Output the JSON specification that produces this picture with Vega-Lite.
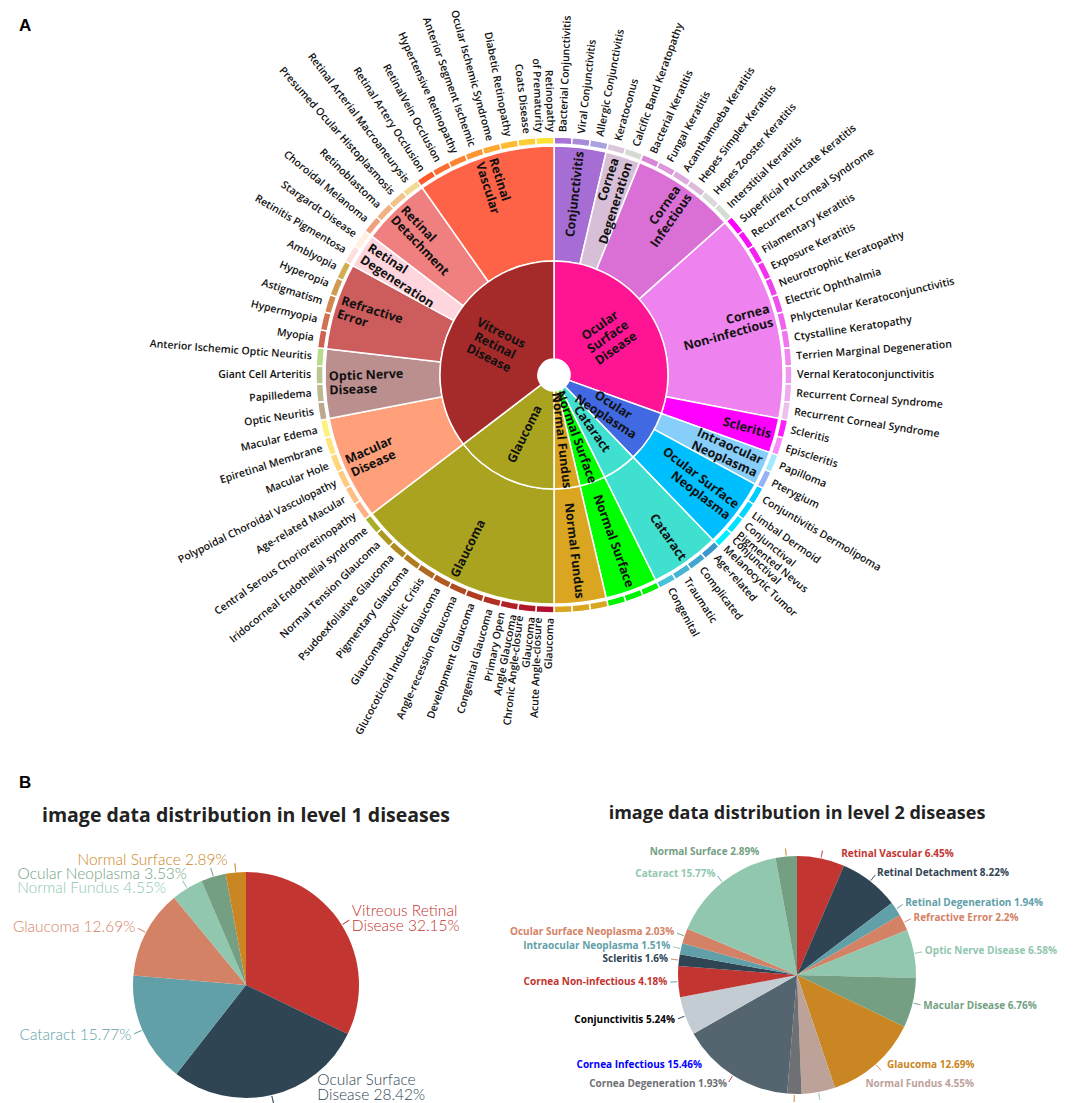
{
  "$schema": "https://vega.github.io/schema/vega-lite/v6.json",
  "background": "white",
  "padding": {"left": 12, "top": 9, "right": 0, "bottom": 0},
  "config": {"view": {"stroke": null}, "title": {"color": "#000000"}},
  "datasets": {
    "leaves": [
      {"l1": "Ocular Surface Disease", "l2": "Conjunctivitis", "name": "Bacterial Conjunctivitis", "v": 1},
      {"l1": "Ocular Surface Disease", "l2": "Conjunctivitis", "name": "Viral Conjunctivitis", "v": 1},
      {"l1": "Ocular Surface Disease", "l2": "Conjunctivitis", "name": "Allergic Conjunctivitis", "v": 1},
      {"l1": "Ocular Surface Disease", "l2": "Cornea Degeneration", "name": "Keratoconus", "v": 1},
      {"l1": "Ocular Surface Disease", "l2": "Cornea Degeneration", "name": "Calcific Band Keratopathy", "v": 1},
      {"l1": "Ocular Surface Disease", "l2": "Cornea Infectious", "name": "Bacterial Keratitis", "v": 1},
      {"l1": "Ocular Surface Disease", "l2": "Cornea Infectious", "name": "Fungal Keratitis", "v": 1},
      {"l1": "Ocular Surface Disease", "l2": "Cornea Infectious", "name": "Acanthamoeba Keratitis", "v": 1},
      {"l1": "Ocular Surface Disease", "l2": "Cornea Infectious", "name": "Hepes Simplex Keratitis", "v": 1},
      {"l1": "Ocular Surface Disease", "l2": "Cornea Infectious", "name": "Hepes Zooster Keratitis", "v": 1},
      {"l1": "Ocular Surface Disease", "l2": "Cornea Infectious", "name": "Interstitial Keratitis", "v": 1},
      {"l1": "Ocular Surface Disease", "l2": "Cornea Non-infectious", "name": "Superficial Punctate Keratitis", "v": 1},
      {"l1": "Ocular Surface Disease", "l2": "Cornea Non-infectious", "name": "Recurrent Corneal Syndrome", "v": 1},
      {"l1": "Ocular Surface Disease", "l2": "Cornea Non-infectious", "name": "Filamentary Keratitis", "v": 1},
      {"l1": "Ocular Surface Disease", "l2": "Cornea Non-infectious", "name": "Exposure Keratitis", "v": 1},
      {"l1": "Ocular Surface Disease", "l2": "Cornea Non-infectious", "name": "Neurotrophic Keratopathy", "v": 1},
      {"l1": "Ocular Surface Disease", "l2": "Cornea Non-infectious", "name": "Electric Ophthalmia", "v": 1},
      {"l1": "Ocular Surface Disease", "l2": "Cornea Non-infectious", "name": "Phlyctenular Keratoconjunctivitis", "v": 1},
      {"l1": "Ocular Surface Disease", "l2": "Cornea Non-infectious", "name": "Ctystalline Keratopathy", "v": 1},
      {"l1": "Ocular Surface Disease", "l2": "Cornea Non-infectious", "name": "Terrien Marginal Degeneration", "v": 1},
      {"l1": "Ocular Surface Disease", "l2": "Cornea Non-infectious", "name": "Vernal Keratoconjunctivitis", "v": 1},
      {"l1": "Ocular Surface Disease", "l2": "Cornea Non-infectious", "name": "Recurrent Corneal Syndrome", "v": 1},
      {"l1": "Ocular Surface Disease", "l2": "Cornea Non-infectious", "name": "Recurrent Corneal Syndrome", "v": 1},
      {"l1": "Ocular Surface Disease", "l2": "Scleritis", "name": "Scleritis", "v": 1},
      {"l1": "Ocular Surface Disease", "l2": "Scleritis", "name": "Episcleritis", "v": 1},
      {"l1": "Ocular Neoplasma", "l2": "Intraocular Neoplasma", "name": "Papilloma", "v": 1},
      {"l1": "Ocular Neoplasma", "l2": "Intraocular Neoplasma", "name": "Pterygium", "v": 1},
      {"l1": "Ocular Neoplasma", "l2": "Ocular Surface Neoplasma", "name": "Conjuntivitis Dermolipoma", "v": 1},
      {"l1": "Ocular Neoplasma", "l2": "Ocular Surface Neoplasma", "name": "Limbal Dermoid", "v": 1},
      {"l1": "Ocular Neoplasma", "l2": "Ocular Surface Neoplasma", "name": "Conjunctival\nPigmented Nevus", "v": 1},
      {"l1": "Ocular Neoplasma", "l2": "Ocular Surface Neoplasma", "name": "Conjunctival\nMelanocytic Tumor", "v": 1},
      {"l1": "Cataract", "l2": "Cataract", "name": "Age-related", "v": 1},
      {"l1": "Cataract", "l2": "Cataract", "name": "Complicated", "v": 1},
      {"l1": "Cataract", "l2": "Cataract", "name": "Traumatic", "v": 1},
      {"l1": "Cataract", "l2": "Cataract", "name": "Congenital", "v": 1},
      {"l1": "Normal Surface", "l2": "Normal Surface", "name": "", "v": 1},
      {"l1": "Normal Surface", "l2": "Normal Surface", "name": "", "v": 1},
      {"l1": "Normal Surface", "l2": "Normal Surface", "name": "", "v": 1},
      {"l1": "Normal Fundus", "l2": "Normal Fundus", "name": "", "v": 1},
      {"l1": "Normal Fundus", "l2": "Normal Fundus", "name": "", "v": 1},
      {"l1": "Normal Fundus", "l2": "Normal Fundus", "name": "", "v": 1},
      {"l1": "Glaucoma", "l2": "Glaucoma", "name": "Acute Angle-closure\nGlaucoma", "v": 1},
      {"l1": "Glaucoma", "l2": "Glaucoma", "name": "Chronic Angle-closure\nGlaucoma", "v": 1},
      {"l1": "Glaucoma", "l2": "Glaucoma", "name": "Primary Open\nAngle Glaucoma", "v": 1},
      {"l1": "Glaucoma", "l2": "Glaucoma", "name": "Congenital Glaucoma", "v": 1},
      {"l1": "Glaucoma", "l2": "Glaucoma", "name": "Development Glaucoma", "v": 1},
      {"l1": "Glaucoma", "l2": "Glaucoma", "name": "Angle-recession Glaucoma", "v": 1},
      {"l1": "Glaucoma", "l2": "Glaucoma", "name": "Glucocoticoid Induced Glaucoma", "v": 1},
      {"l1": "Glaucoma", "l2": "Glaucoma", "name": "Glaucomatocyclitic Crisis", "v": 1},
      {"l1": "Glaucoma", "l2": "Glaucoma", "name": "Pigmentary Glaucoma", "v": 1},
      {"l1": "Glaucoma", "l2": "Glaucoma", "name": "Psudoexfoliative Glaucoma", "v": 1},
      {"l1": "Glaucoma", "l2": "Glaucoma", "name": "Normal Tension Glaucoma", "v": 1},
      {"l1": "Glaucoma", "l2": "Glaucoma", "name": "Iridocorneal Endothelial syndrome", "v": 1},
      {"l1": "Vitreous Retinal Disease", "l2": "Macular Disease", "name": "Central Serous Chorioretinopathy", "v": 1},
      {"l1": "Vitreous Retinal Disease", "l2": "Macular Disease", "name": "Age-related Macular", "v": 1},
      {"l1": "Vitreous Retinal Disease", "l2": "Macular Disease", "name": "Polypoidal Choroidal Vasculopathy", "v": 1},
      {"l1": "Vitreous Retinal Disease", "l2": "Macular Disease", "name": "Macular Hole", "v": 1},
      {"l1": "Vitreous Retinal Disease", "l2": "Macular Disease", "name": "Epiretinal Membrane", "v": 1},
      {"l1": "Vitreous Retinal Disease", "l2": "Macular Disease", "name": "Macular Edema", "v": 1},
      {"l1": "Vitreous Retinal Disease", "l2": "Optic Nerve Disease", "name": "Optic Neuritis", "v": 1},
      {"l1": "Vitreous Retinal Disease", "l2": "Optic Nerve Disease", "name": "Papilledema", "v": 1},
      {"l1": "Vitreous Retinal Disease", "l2": "Optic Nerve Disease", "name": "Giant Cell Arteritis", "v": 1},
      {"l1": "Vitreous Retinal Disease", "l2": "Optic Nerve Disease", "name": "Anterior Ischemic Optic Neuritis", "v": 1},
      {"l1": "Vitreous Retinal Disease", "l2": "Refractive Error", "name": "Myopia", "v": 1},
      {"l1": "Vitreous Retinal Disease", "l2": "Refractive Error", "name": "Hypermyopia", "v": 1},
      {"l1": "Vitreous Retinal Disease", "l2": "Refractive Error", "name": "Astigmatism", "v": 1},
      {"l1": "Vitreous Retinal Disease", "l2": "Refractive Error", "name": "Hyperopia", "v": 1},
      {"l1": "Vitreous Retinal Disease", "l2": "Refractive Error", "name": "Amblyopia", "v": 1},
      {"l1": "Vitreous Retinal Disease", "l2": "Retinal Degeneration", "name": "Retinitis Pigmentosa", "v": 1},
      {"l1": "Vitreous Retinal Disease", "l2": "Retinal Degeneration", "name": "Stargardt Disease", "v": 1},
      {"l1": "Vitreous Retinal Disease", "l2": "Retinal Detachment", "name": "Choroidal Melanoma", "v": 1},
      {"l1": "Vitreous Retinal Disease", "l2": "Retinal Detachment", "name": "Retinoblastoma", "v": 1},
      {"l1": "Vitreous Retinal Disease", "l2": "Retinal Detachment", "name": "Presumed Ocular Histoplasmosis", "v": 1},
      {"l1": "Vitreous Retinal Disease", "l2": "Retinal Detachment", "name": "Retinal Arterial Macroaneurysis", "v": 1},
      {"l1": "Vitreous Retinal Disease", "l2": "Retinal Vascular", "name": "Retinal Artery Occlusion", "v": 1},
      {"l1": "Vitreous Retinal Disease", "l2": "Retinal Vascular", "name": "RetinalVein Occlusion", "v": 1},
      {"l1": "Vitreous Retinal Disease", "l2": "Retinal Vascular", "name": "Hypertensive Retinopathy", "v": 1},
      {"l1": "Vitreous Retinal Disease", "l2": "Retinal Vascular", "name": "Anterior Segment Ischemic", "v": 1},
      {"l1": "Vitreous Retinal Disease", "l2": "Retinal Vascular", "name": "Ocular Ischemic Syndrome", "v": 1},
      {"l1": "Vitreous Retinal Disease", "l2": "Retinal Vascular", "name": "Diabetic Retinopathy", "v": 1},
      {"l1": "Vitreous Retinal Disease", "l2": "Retinal Vascular", "name": "Coats Disease", "v": 1},
      {"l1": "Vitreous Retinal Disease", "l2": "Retinal Vascular", "name": "Retinopathy\nof Prematurity", "v": 1}
    ],
    "labels": [
      {"key": "Ocular Surface Disease", "text": "Ocular\nSurface\nDisease"},
      {"key": "Ocular Neoplasma", "text": "Ocular\nNeoplasma"},
      {"key": "Cataract", "text": "Cataract"},
      {"key": "Normal Surface", "text": "Normal Surface"},
      {"key": "Normal Fundus", "text": "Normal Fundus"},
      {"key": "Glaucoma", "text": "Glaucoma"},
      {"key": "Vitreous Retinal Disease", "text": "Vitreous\nRetinal\nDisease"},
      {"key": "Conjunctivitis", "text": "Conjunctivitis"},
      {"key": "Cornea Degeneration", "text": "Cornea\nDegeneration"},
      {"key": "Cornea Infectious", "text": "Cornea\nInfectious"},
      {"key": "Cornea Non-infectious", "text": "Cornea\nNon-infectious"},
      {"key": "Scleritis", "text": "Scleritis"},
      {"key": "Intraocular Neoplasma", "text": "Intraocular\nNeoplasma"},
      {"key": "Ocular Surface Neoplasma", "text": "Ocular Surface\nNeoplasma"},
      {"key": "Macular Disease", "text": "Macular\nDisease"},
      {"key": "Optic Nerve Disease", "text": "Optic Nerve\nDisease"},
      {"key": "Refractive Error", "text": "Refractive\nError"},
      {"key": "Retinal Degeneration", "text": "Retinal\nDegeneration"},
      {"key": "Retinal Detachment", "text": "Retinal\nDetachment"},
      {"key": "Retinal Vascular", "text": "Retinal\nVascular"}
    ],
    "lv1": [
      {"name": "Vitreous Retinal Disease", "label": "Vitreous Retinal\nDisease 32.15%", "pct": 32.15},
      {"name": "Ocular Surface Disease", "label": "Ocular Surface\nDisease 28.42%", "pct": 28.42},
      {"name": "Cataract", "label": "Cataract 15.77%", "pct": 15.77},
      {"name": "Glaucoma", "label": "Glaucoma 12.69%", "pct": 12.69},
      {"name": "Normal Fundus", "label": "Normal Fundus 4.55%", "pct": 4.55},
      {"name": "Ocular Neoplasma", "label": "Ocular Neoplasma 3.53%", "pct": 3.53},
      {"name": "Normal Surface", "label": "Normal Surface 2.89%", "pct": 2.89}
    ],
    "lv2": [
      {"name": "Retinal Vascular", "label": "Retinal Vascular 6.45%", "pct": 6.45},
      {"name": "Retinal Detachment", "label": "Retinal Detachment 8.22%", "pct": 8.22},
      {"name": "Retinal Degeneration", "label": "Retinal Degeneration 1.94%", "pct": 1.94},
      {"name": "Refractive Error", "label": "Refractive Error 2.2%", "pct": 2.2},
      {"name": "Optic Nerve Disease", "label": "Optic Nerve Disease 6.58%", "pct": 6.58},
      {"name": "Macular Disease", "label": "Macular Disease 6.76%", "pct": 6.76},
      {"name": "Glaucoma", "label": "Glaucoma 12.69%", "pct": 12.69},
      {"name": "Normal Fundus", "label": "Normal Fundus 4.55%", "pct": 4.55},
      {"name": "Cornea Degeneration", "label": "Cornea Degeneration 1.93%", "pct": 1.93},
      {"name": "Cornea Infectious", "label": "Cornea Infectious 15.46%", "pct": 15.46},
      {"name": "Conjunctivitis", "label": "Conjunctivitis 5.24%", "pct": 5.24},
      {"name": "Cornea Non-infectious", "label": "Cornea Non-infectious 4.18%", "pct": 4.18},
      {"name": "Scleritis", "label": "Scleritis 1.6%", "pct": 1.6},
      {"name": "Intraocular Neoplasma", "label": "Intraocular Neoplasma 1.51%", "pct": 1.51},
      {"name": "Ocular Surface Neoplasma", "label": "Ocular Surface Neoplasma 2.03%", "pct": 2.03},
      {"name": "Cataract", "label": "Cataract 15.77%", "pct": 15.77},
      {"name": "Normal Surface", "label": "Normal Surface 2.89%", "pct": 2.89}
    ]
  },
  "spacing": 36,
  "vconcat": [
    {
      "width": 1056,
      "height": 680,
      "title": {"text": "A", "anchor": "start", "frame": "group", "fontSize": 17, "fontWeight": "bold", "font": "Liberation Sans", "offset": -26, "dx": -7},
      "data": {"name": "leaves"},
      "transform": [
        {"window": [{"op": "sum", "field": "v", "as": "cum"}], "frame": [null, 0]},
        {"joinaggregate": [{"op": "sum", "field": "v", "as": "tot"}]},
        {"calculate": "(datum.cum - datum.v) / datum.tot", "as": "t0"},
        {"calculate": "datum.cum / datum.tot", "as": "t1"}
      ],
      "resolve": {"scale": {"color": "independent"}},
      "layer": [
        {
          "mark": {"type": "arc", "innerRadius": 231, "outerRadius": 238, "stroke": "white", "strokeWidth": 1.5},
          "encoding": {
            "theta": {"field": "t0", "type": "quantitative", "stack": null, "scale": {"domain": [0, 1], "nice": false, "zero": false}},
            "theta2": {"field": "t1"},
            "color": {"field": "cum", "type": "ordinal", "legend": null, "scale": {
              "domain": [1,2,3,4,5,6,7,8,9,10,11,12,13,14,15,16,17,18,19,20,21,22,23,24,25,26,27,28,29,30,31,32,33,34,35,36,37,38,39,40,41,42,43,44,45,46,47,48,49,50,51,52,53,54,55,56,57,58,59,60,61,62,63,64,65,66,67,68,69,70,71,72,73,74,75,76,77,78,79,80,81,82],
              "range": ["#A872D6","#A98AD8","#A8A2E0","#DCC6DC","#D5DAD3","#DA86D8","#DC98DB","#DDA8DC","#DABCDA","#D9D9D9","#D4DCD4","#FF00FF","#F812F6","#F322F2","#F032F0","#EE42EE","#EE52EE","#EE64EE","#EE76EE","#EE88EE","#EE9AEE","#EEACEE","#EEC0EE","#FF1EFF","#F98AF9","#A0EAFF","#98B2F6","#00CCFF","#00D6FF","#00E2FF","#00EEFF","#3C98CC","#40A6D0","#44B4D4","#48C2D8","#00F200","#00F200","#00F200","#DAA520","#DAA520","#DAA520","#B0102E","#B0182A","#B02226","#B02E22","#B03C20","#B04A20","#B05A20","#B06A20","#B07A20","#AE8A20","#AC9A20","#A8AE28","#FFB085","#FFBE82","#FFCA80","#FFD67E","#FFE47C","#FFF27A","#BCA88E","#BCB890","#B8C890","#B6DC8C","#D0604E","#D07250","#D08650","#D09A50","#D0AE50","#FFDEDE","#FFF0DE","#F0A07E","#F0B282","#F0C488","#F4D890","#FF5A2A","#FF6E2E","#FF8230","#FF9632","#FFA834","#FFBA34","#FFCC34","#FFE034"]
            }}
          }
        },
        {
          "transform": [
            {"aggregate": [{"op": "min", "field": "t0", "as": "a0"}, {"op": "max", "field": "t1", "as": "a1"}], "groupby": ["l2"]}
          ],
          "mark": {"type": "arc", "innerRadius": 114, "outerRadius": 229, "stroke": "white", "strokeWidth": 1.5},
          "encoding": {
            "theta": {"field": "a0", "type": "quantitative", "stack": null},
            "theta2": {"field": "a1"},
            "color": {"field": "l2", "type": "nominal", "legend": null, "scale": {
              "domain": ["Conjunctivitis","Cornea Degeneration","Cornea Infectious","Cornea Non-infectious","Scleritis","Intraocular Neoplasma","Ocular Surface Neoplasma","Cataract","Normal Surface","Normal Fundus","Glaucoma","Macular Disease","Optic Nerve Disease","Refractive Error","Retinal Degeneration","Retinal Detachment","Retinal Vascular"],
              "range": ["#A66DD4","#D8BFD8","#DA70D6","#EE82EE","#FF00FF","#87CEFA","#00BFFF","#40E0D0","#00FF00","#DAA520","#AAA31F","#FFA07A","#BC8F8F","#CD5C5C","#FFD5DE","#F08080","#FF6347"]
            }}
          }
        },
        {
          "transform": [
            {"aggregate": [{"op": "min", "field": "t0", "as": "a0"}, {"op": "max", "field": "t1", "as": "a1"}], "groupby": ["l1"]}
          ],
          "mark": {"type": "arc", "innerRadius": 16, "outerRadius": 114, "stroke": "white", "strokeWidth": 1.5},
          "encoding": {
            "theta": {"field": "a0", "type": "quantitative", "stack": null},
            "theta2": {"field": "a1"},
            "color": {"field": "l1", "type": "nominal", "legend": null, "scale": {
              "domain": ["Ocular Surface Disease","Ocular Neoplasma","Cataract","Normal Surface","Normal Fundus","Glaucoma","Vitreous Retinal Disease"],
              "range": ["#FF1493","#4169E1","#40E0D0","#00FF00","#DAA520","#AAA31F","#A52A2A"]
            }}
          }
        },
        {
          "transform": [
            {"aggregate": [{"op": "min", "field": "t0", "as": "a0"}, {"op": "max", "field": "t1", "as": "a1"}], "groupby": ["l1"]},
            {"calculate": "(datum.a0 + datum.a1) / 2", "as": "tm"},
            {"calculate": "datum.tm * 360 < 180 ? datum.tm * 360 - 90 : datum.tm * 360 - 270", "as": "rot"},
            {"lookup": "l1", "from": {"data": {"name": "labels"}, "key": "key", "fields": ["text"]}},
            {"filter": "length(split(datum.text, '\\n')) == 1"}
          ],
          "mark": {"type": "text", "radius": 66, "align": "center", "baseline": "middle", "lineBreak": "\n", "lineHeight": 14, "font": "Open Sans", "fontSize": 12.5, "fontWeight": "bold", "color": "#111111"},
          "encoding": {
            "theta": {"field": "tm", "type": "quantitative", "stack": null},
            "angle": {"field": "rot", "type": "quantitative", "scale": null},
            "text": {"field": "text", "type": "nominal"}
          }
        },
        {
          "transform": [
            {"aggregate": [{"op": "min", "field": "t0", "as": "a0"}, {"op": "max", "field": "t1", "as": "a1"}], "groupby": ["l1"]},
            {"calculate": "(datum.a0 + datum.a1) / 2", "as": "tm"},
            {"calculate": "datum.tm * 360 < 180 ? datum.tm * 360 - 90 : datum.tm * 360 - 270", "as": "rot"},
            {"lookup": "l1", "from": {"data": {"name": "labels"}, "key": "key", "fields": ["text"]}},
            {"filter": "length(split(datum.text, '\\n')) == 2"}
          ],
          "mark": {"type": "text", "radius": 66, "align": "center", "baseline": "middle", "lineBreak": "\n", "lineHeight": 14, "dy": -7, "font": "Open Sans", "fontSize": 12.5, "fontWeight": "bold", "color": "#111111"},
          "encoding": {
            "theta": {"field": "tm", "type": "quantitative", "stack": null},
            "angle": {"field": "rot", "type": "quantitative", "scale": null},
            "text": {"field": "text", "type": "nominal"}
          }
        },
        {
          "transform": [
            {"aggregate": [{"op": "min", "field": "t0", "as": "a0"}, {"op": "max", "field": "t1", "as": "a1"}], "groupby": ["l1"]},
            {"calculate": "(datum.a0 + datum.a1) / 2", "as": "tm"},
            {"calculate": "datum.tm * 360 < 180 ? datum.tm * 360 - 90 : datum.tm * 360 - 270", "as": "rot"},
            {"lookup": "l1", "from": {"data": {"name": "labels"}, "key": "key", "fields": ["text"]}},
            {"filter": "length(split(datum.text, '\\n')) == 3"}
          ],
          "mark": {"type": "text", "radius": 66, "align": "center", "baseline": "middle", "lineBreak": "\n", "lineHeight": 14, "dy": -14, "font": "Open Sans", "fontSize": 12.5, "fontWeight": "bold", "color": "#111111"},
          "encoding": {
            "theta": {"field": "tm", "type": "quantitative", "stack": null},
            "angle": {"field": "rot", "type": "quantitative", "scale": null},
            "text": {"field": "text", "type": "nominal"}
          }
        },
        {
          "transform": [
            {"aggregate": [{"op": "min", "field": "t0", "as": "a0"}, {"op": "max", "field": "t1", "as": "a1"}], "groupby": ["l2"]},
            {"calculate": "(datum.a0 + datum.a1) / 2", "as": "tm"},
            {"filter": "datum.tm < 0.5"},
            {"calculate": "datum.tm * 360 - 90", "as": "rot"},
            {"lookup": "l2", "from": {"data": {"name": "labels"}, "key": "key", "fields": ["text"]}},
            {"filter": "length(split(datum.text, '\\n')) == 1"}
          ],
          "mark": {"type": "text", "radius": 225, "align": "right", "baseline": "middle", "lineBreak": "\n", "lineHeight": 14, "font": "Open Sans", "fontSize": 12.5, "fontWeight": "bold", "color": "#111111"},
          "encoding": {
            "theta": {"field": "tm", "type": "quantitative", "stack": null},
            "angle": {"field": "rot", "type": "quantitative", "scale": null},
            "text": {"field": "text", "type": "nominal"}
          }
        },
        {
          "transform": [
            {"aggregate": [{"op": "min", "field": "t0", "as": "a0"}, {"op": "max", "field": "t1", "as": "a1"}], "groupby": ["l2"]},
            {"calculate": "(datum.a0 + datum.a1) / 2", "as": "tm"},
            {"filter": "datum.tm < 0.5"},
            {"calculate": "datum.tm * 360 - 90", "as": "rot"},
            {"lookup": "l2", "from": {"data": {"name": "labels"}, "key": "key", "fields": ["text"]}},
            {"filter": "length(split(datum.text, '\\n')) == 2"}
          ],
          "mark": {"type": "text", "radius": 225, "align": "right", "baseline": "middle", "lineBreak": "\n", "lineHeight": 14, "dy": -7, "font": "Open Sans", "fontSize": 12.5, "fontWeight": "bold", "color": "#111111"},
          "encoding": {
            "theta": {"field": "tm", "type": "quantitative", "stack": null},
            "angle": {"field": "rot", "type": "quantitative", "scale": null},
            "text": {"field": "text", "type": "nominal"}
          }
        },
        {
          "transform": [
            {"aggregate": [{"op": "min", "field": "t0", "as": "a0"}, {"op": "max", "field": "t1", "as": "a1"}], "groupby": ["l2"]},
            {"calculate": "(datum.a0 + datum.a1) / 2", "as": "tm"},
            {"filter": "datum.tm >= 0.5"},
            {"calculate": "datum.tm * 360 - 270", "as": "rot"},
            {"lookup": "l2", "from": {"data": {"name": "labels"}, "key": "key", "fields": ["text"]}},
            {"filter": "length(split(datum.text, '\\n')) == 1"}
          ],
          "mark": {"type": "text", "radius": 225, "align": "left", "baseline": "middle", "lineBreak": "\n", "lineHeight": 14, "font": "Open Sans", "fontSize": 12.5, "fontWeight": "bold", "color": "#111111"},
          "encoding": {
            "theta": {"field": "tm", "type": "quantitative", "stack": null},
            "angle": {"field": "rot", "type": "quantitative", "scale": null},
            "text": {"field": "text", "type": "nominal"}
          }
        },
        {
          "transform": [
            {"aggregate": [{"op": "min", "field": "t0", "as": "a0"}, {"op": "max", "field": "t1", "as": "a1"}], "groupby": ["l2"]},
            {"calculate": "(datum.a0 + datum.a1) / 2", "as": "tm"},
            {"filter": "datum.tm >= 0.5"},
            {"calculate": "datum.tm * 360 - 270", "as": "rot"},
            {"lookup": "l2", "from": {"data": {"name": "labels"}, "key": "key", "fields": ["text"]}},
            {"filter": "length(split(datum.text, '\\n')) == 2"}
          ],
          "mark": {"type": "text", "radius": 225, "align": "left", "baseline": "middle", "lineBreak": "\n", "lineHeight": 14, "dy": -7, "font": "Open Sans", "fontSize": 12.5, "fontWeight": "bold", "color": "#111111"},
          "encoding": {
            "theta": {"field": "tm", "type": "quantitative", "stack": null},
            "angle": {"field": "rot", "type": "quantitative", "scale": null},
            "text": {"field": "text", "type": "nominal"}
          }
        },
        {
          "transform": [
            {"filter": "datum.name != ''"},
            {"calculate": "(datum.t0 + datum.t1) / 2", "as": "tm"},
            {"filter": "datum.tm < 0.5 && length(split(datum.name, '\\n')) == 1"},
            {"calculate": "datum.tm * 360 - 90", "as": "rot"}
          ],
          "mark": {"type": "text", "radius": 243, "align": "left", "baseline": "middle", "lineBreak": "\n", "lineHeight": 12, "font": "Open Sans", "fontSize": 10.5, "fontWeight": 600, "color": "#111111"},
          "encoding": {
            "theta": {"field": "tm", "type": "quantitative", "stack": null},
            "angle": {"field": "rot", "type": "quantitative", "scale": null},
            "text": {"field": "name", "type": "nominal"}
          }
        },
        {
          "transform": [
            {"filter": "datum.name != ''"},
            {"calculate": "(datum.t0 + datum.t1) / 2", "as": "tm"},
            {"filter": "datum.tm < 0.5 && length(split(datum.name, '\\n')) == 2"},
            {"calculate": "datum.tm * 360 - 90", "as": "rot"}
          ],
          "mark": {"type": "text", "radius": 243, "align": "left", "baseline": "middle", "lineBreak": "\n", "lineHeight": 12, "dy": -6, "font": "Open Sans", "fontSize": 10.5, "fontWeight": 600, "color": "#111111"},
          "encoding": {
            "theta": {"field": "tm", "type": "quantitative", "stack": null},
            "angle": {"field": "rot", "type": "quantitative", "scale": null},
            "text": {"field": "name", "type": "nominal"}
          }
        },
        {
          "transform": [
            {"filter": "datum.name != ''"},
            {"calculate": "(datum.t0 + datum.t1) / 2", "as": "tm"},
            {"filter": "datum.tm >= 0.5 && length(split(datum.name, '\\n')) == 1"},
            {"calculate": "datum.tm * 360 - 270", "as": "rot"}
          ],
          "mark": {"type": "text", "radius": 243, "align": "right", "baseline": "middle", "lineBreak": "\n", "lineHeight": 12, "font": "Open Sans", "fontSize": 10.5, "fontWeight": 600, "color": "#111111"},
          "encoding": {
            "theta": {"field": "tm", "type": "quantitative", "stack": null},
            "angle": {"field": "rot", "type": "quantitative", "scale": null},
            "text": {"field": "name", "type": "nominal"}
          }
        },
        {
          "transform": [
            {"filter": "datum.name != ''"},
            {"calculate": "(datum.t0 + datum.t1) / 2", "as": "tm"},
            {"filter": "datum.tm >= 0.5 && length(split(datum.name, '\\n')) == 2"},
            {"calculate": "datum.tm * 360 - 270", "as": "rot"}
          ],
          "mark": {"type": "text", "radius": 243, "align": "right", "baseline": "middle", "lineBreak": "\n", "lineHeight": 12, "dy": -6, "font": "Open Sans", "fontSize": 10.5, "fontWeight": 600, "color": "#111111"},
          "encoding": {
            "theta": {"field": "tm", "type": "quantitative", "stack": null},
            "angle": {"field": "rot", "type": "quantitative", "scale": null},
            "text": {"field": "name", "type": "nominal"}
          }
        }
      ]
    },
    {
      "title": {"text": "B", "anchor": "start", "frame": "group", "fontSize": 17, "fontWeight": "bold", "font": "Liberation Sans", "offset": 13, "dx": -7},
      "spacing": 44,
      "hconcat": [
        {
          "width": 440,
          "height": 242,
          "title": {"text": "image data distribution in level 1 diseases", "anchor": "middle", "frame": "group", "font": "Open Sans", "fontSize": 19.5, "fontWeight": "bold", "color": "#222222", "offset": 26},
          "data": {"name": "lv1"},
          "transform": [
            {"window": [{"op": "sum", "field": "pct", "as": "cum"}], "frame": [null, 0]},
            {"calculate": "datum.cum - datum.pct", "as": "t0"},
            {"calculate": "datum.cum - datum.pct / 2", "as": "tm"}
          ],
          "encoding": {
            "color": {"field": "name", "type": "nominal", "legend": null, "scale": {
              "domain": ["Vitreous Retinal Disease","Ocular Surface Disease","Cataract","Glaucoma","Normal Fundus","Ocular Neoplasma","Normal Surface"],
              "range": ["#c23531","#2f4554","#61a0a8","#d48265","#91c7ae","#749f83","#ca8622"]
            }}
          },
          "layer": [
            {
              "mark": {"type": "arc", "outerRadius": 113},
              "encoding": {
                "theta": {"field": "t0", "type": "quantitative", "stack": null, "scale": {"domain": [0, 100], "nice": false, "zero": false}},
                "theta2": {"field": "cum"}
              }
            },
            {
              "mark": {"type": "arc", "innerRadius": 114, "outerRadius": 122, "strokeWidth": 1, "fillOpacity": 0, "strokeOpacity": 0.7},
              "encoding": {
                "theta": {"field": "tm", "type": "quantitative", "stack": null},
                "theta2": {"field": "tm"},
                "stroke": {"field": "name", "type": "nominal", "legend": null, "scale": {
                  "domain": ["Vitreous Retinal Disease","Ocular Surface Disease","Cataract","Glaucoma","Normal Fundus","Ocular Neoplasma","Normal Surface"],
                  "range": ["#c23531","#2f4554","#61a0a8","#d48265","#91c7ae","#749f83","#ca8622"]
                }}
              }
            },
            {
              "transform": [{"filter": "datum.name == 'Vitreous Retinal Disease'"}],
              "mark": {"type": "text", "radius": 125, "align": "left", "baseline": "middle", "lineBreak": "\n", "lineHeight": 15, "dy": -7.5, "font": "Lato", "fontSize": 15.5, "fontWeight": 300},
              "encoding": {"theta": {"field": "tm", "type": "quantitative", "stack": null}, "text": {"field": "label", "type": "nominal"}}
            },
            {
              "transform": [{"filter": "datum.name == 'Ocular Surface Disease'"}],
              "mark": {"type": "text", "radius": 125, "align": "left", "baseline": "middle", "lineBreak": "\n", "lineHeight": 15, "font": "Lato", "fontSize": 15.5, "fontWeight": 300, "dx": 43, "dy": -27},
              "encoding": {"theta": {"field": "tm", "type": "quantitative", "stack": null}, "text": {"field": "label", "type": "nominal"}}
            },
            {
              "transform": [{"filter": "datum.name == 'Cataract' || datum.name == 'Glaucoma'"}],
              "mark": {"type": "text", "radius": 125, "align": "right", "baseline": "middle", "font": "Lato", "fontSize": 15.5, "fontWeight": 300},
              "encoding": {"theta": {"field": "tm", "type": "quantitative", "stack": null}, "text": {"field": "label", "type": "nominal"}}
            },
            {
              "transform": [{"filter": "datum.name == 'Normal Fundus'"}],
              "mark": {"type": "text", "radius": 125, "align": "right", "baseline": "middle", "font": "Lato", "fontSize": 15.5, "fontWeight": 300, "dx": -15, "dy": 10},
              "encoding": {"theta": {"field": "tm", "type": "quantitative", "stack": null}, "text": {"field": "label", "type": "nominal"}}
            },
            {
              "transform": [{"filter": "datum.name == 'Ocular Neoplasma'"}],
              "mark": {"type": "text", "radius": 125, "align": "right", "baseline": "middle", "font": "Lato", "fontSize": 15.5, "fontWeight": 300, "dx": -23, "dy": 9},
              "encoding": {"theta": {"field": "tm", "type": "quantitative", "stack": null}, "text": {"field": "label", "type": "nominal"}}
            },
            {
              "transform": [{"filter": "datum.name == 'Normal Surface'"}],
              "mark": {"type": "text", "radius": 125, "align": "right", "baseline": "middle", "font": "Lato", "fontSize": 15.5, "fontWeight": 300, "dx": -7, "dy": -1},
              "encoding": {"theta": {"field": "tm", "type": "quantitative", "stack": null}, "text": {"field": "label", "type": "nominal"}}
            }
          ]
        },
        {
          "width": 572,
          "height": 222,
          "title": {"text": "image data distribution in level 2 diseases", "anchor": "middle", "frame": "group", "font": "Open Sans", "fontSize": 18, "fontWeight": "bold", "color": "#222222", "offset": 24},
          "data": {"name": "lv2"},
          "transform": [
            {"window": [{"op": "sum", "field": "pct", "as": "cum"}], "frame": [null, 0]},
            {"calculate": "datum.cum - datum.pct", "as": "t0"},
            {"calculate": "datum.cum - datum.pct / 2", "as": "tm"}
          ],
          "resolve": {"scale": {"color": "independent"}},
          "layer": [
            {
              "mark": {"type": "arc", "outerRadius": 119},
              "encoding": {
                "theta": {"field": "t0", "type": "quantitative", "stack": null, "scale": {"domain": [0, 100], "nice": false, "zero": false}},
                "theta2": {"field": "cum"},
                "color": {"field": "name", "type": "nominal", "legend": null, "scale": {
                  "domain": ["Retinal Vascular","Retinal Detachment","Retinal Degeneration","Refractive Error","Optic Nerve Disease","Macular Disease","Glaucoma","Normal Fundus","Cornea Degeneration","Cornea Infectious","Conjunctivitis","Cornea Non-infectious","Scleritis","Intraocular Neoplasma","Ocular Surface Neoplasma","Cataract","Normal Surface"],
                  "range": ["#c23531","#2f4554","#61a0a8","#d48265","#91c7ae","#749f83","#ca8622","#bda29a","#6e7074","#546570","#c4ccd3","#c23531","#2f4554","#61a0a8","#d48265","#91c7ae","#749f83"]
                }}
              }
            },
            {
              "mark": {"type": "arc", "innerRadius": 120, "outerRadius": 127, "strokeWidth": 1, "fillOpacity": 0, "strokeOpacity": 0.6},
              "encoding": {
                "theta": {"field": "tm", "type": "quantitative", "stack": null},
                "theta2": {"field": "tm"},
                "stroke": {"field": "name", "type": "nominal", "legend": null, "scale": {
                  "domain": ["Retinal Vascular","Retinal Detachment","Retinal Degeneration","Refractive Error","Optic Nerve Disease","Macular Disease","Glaucoma","Normal Fundus","Cornea Degeneration","Cornea Infectious","Conjunctivitis","Cornea Non-infectious","Scleritis","Intraocular Neoplasma","Ocular Surface Neoplasma","Cataract","Normal Surface"],
                  "range": ["#c23531","#2f4554","#61a0a8","#d48265","#91c7ae","#749f83","#ca8622","#bda29a","#6e7074","#546570","#c4ccd3","#c23531","#2f4554","#61a0a8","#d48265","#91c7ae","#749f83"]
                }}
              }
            },
            {
              "transform": [{"filter": "datum.tm < 50 && datum.name != 'Retinal Vascular' && datum.name != 'Normal Fundus' && datum.name != 'Glaucoma'"}],
              "mark": {"type": "text", "radius": 130, "align": "left", "baseline": "middle", "font": "Open Sans", "fontSize": 10, "fontWeight": "bold"},
              "encoding": {
                "theta": {"field": "tm", "type": "quantitative", "stack": null},
                "text": {"field": "label", "type": "nominal"},
                "color": {"field": "name", "type": "nominal", "legend": null, "scale": {
                  "domain": ["Retinal Vascular","Retinal Detachment","Retinal Degeneration","Refractive Error","Optic Nerve Disease","Macular Disease","Glaucoma","Normal Fundus","Cornea Degeneration","Cornea Infectious","Conjunctivitis","Cornea Non-infectious","Scleritis","Intraocular Neoplasma","Ocular Surface Neoplasma","Cataract","Normal Surface"],
                  "range": ["#c23531","#2f4554","#61a0a8","#d48265","#91c7ae","#749f83","#ca8622","#bda29a","#6e7074","#0000ff","#000000","#c23531","#2f4554","#61a0a8","#d48265","#91c7ae","#749f83"]
                }}
              }
            },
            {
              "transform": [{"filter": "datum.name == 'Retinal Vascular'"}],
              "mark": {"type": "text", "radius": 130, "align": "left", "baseline": "middle", "font": "Open Sans", "fontSize": 10, "fontWeight": "bold", "color": "#c23531", "dx": 18, "dy": 6},
              "encoding": {"theta": {"field": "tm", "type": "quantitative", "stack": null}, "text": {"field": "label", "type": "nominal"}}
            },
            {
              "transform": [{"filter": "datum.name == 'Glaucoma'"}],
              "mark": {"type": "text", "radius": 130, "align": "left", "baseline": "middle", "font": "Open Sans", "fontSize": 10, "fontWeight": "bold", "color": "#ca8622", "dx": 4, "dy": -7},
              "encoding": {"theta": {"field": "tm", "type": "quantitative", "stack": null}, "text": {"field": "label", "type": "nominal"}}
            },
            {
              "transform": [{"filter": "datum.name == 'Normal Fundus'"}],
              "mark": {"type": "text", "radius": 130, "align": "left", "baseline": "middle", "font": "Open Sans", "fontSize": 10, "fontWeight": "bold", "color": "#bda29a", "dx": 45, "dy": -19},
              "encoding": {"theta": {"field": "tm", "type": "quantitative", "stack": null}, "text": {"field": "label", "type": "nominal"}}
            },
            {
              "transform": [{"filter": "datum.tm >= 50 && datum.name != 'Cornea Degeneration' && datum.name != 'Cornea Infectious' && datum.name != 'Normal Surface'"}],
              "mark": {"type": "text", "radius": 130, "align": "right", "baseline": "middle", "font": "Open Sans", "fontSize": 10, "fontWeight": "bold"},
              "encoding": {
                "theta": {"field": "tm", "type": "quantitative", "stack": null},
                "text": {"field": "label", "type": "nominal"},
                "color": {"field": "name", "type": "nominal", "legend": null, "scale": {
                  "domain": ["Retinal Vascular","Retinal Detachment","Retinal Degeneration","Refractive Error","Optic Nerve Disease","Macular Disease","Glaucoma","Normal Fundus","Cornea Degeneration","Cornea Infectious","Conjunctivitis","Cornea Non-infectious","Scleritis","Intraocular Neoplasma","Ocular Surface Neoplasma","Cataract","Normal Surface"],
                  "range": ["#c23531","#2f4554","#61a0a8","#d48265","#91c7ae","#749f83","#ca8622","#bda29a","#6e7074","#0000ff","#000000","#c23531","#2f4554","#61a0a8","#d48265","#91c7ae","#749f83"]
                }}
              }
            },
            {
              "transform": [{"filter": "datum.name == 'Cornea Degeneration'"}],
              "mark": {"type": "text", "radius": 130, "align": "right", "baseline": "middle", "font": "Open Sans", "fontSize": 10, "fontWeight": "bold", "color": "#6e7074", "dx": -67, "dy": -21},
              "encoding": {"theta": {"field": "tm", "type": "quantitative", "stack": null}, "text": {"field": "label", "type": "nominal"}}
            },
            {
              "transform": [{"filter": "datum.name == 'Cornea Infectious'"}],
              "mark": {"type": "text", "radius": 130, "align": "right", "baseline": "middle", "font": "Open Sans", "fontSize": 10, "fontWeight": "bold", "color": "#0000ff", "dx": -25, "dy": -20},
              "encoding": {"theta": {"field": "tm", "type": "quantitative", "stack": null}, "text": {"field": "label", "type": "nominal"}}
            },
            {
              "transform": [{"filter": "datum.name == 'Normal Surface'"}],
              "mark": {"type": "text", "radius": 130, "align": "right", "baseline": "middle", "font": "Open Sans", "fontSize": 10, "fontWeight": "bold", "color": "#749f83", "dx": -26, "dy": 6},
              "encoding": {"theta": {"field": "tm", "type": "quantitative", "stack": null}, "text": {"field": "label", "type": "nominal"}}
            }
          ]
        }
      ]
    }
  ]
}
